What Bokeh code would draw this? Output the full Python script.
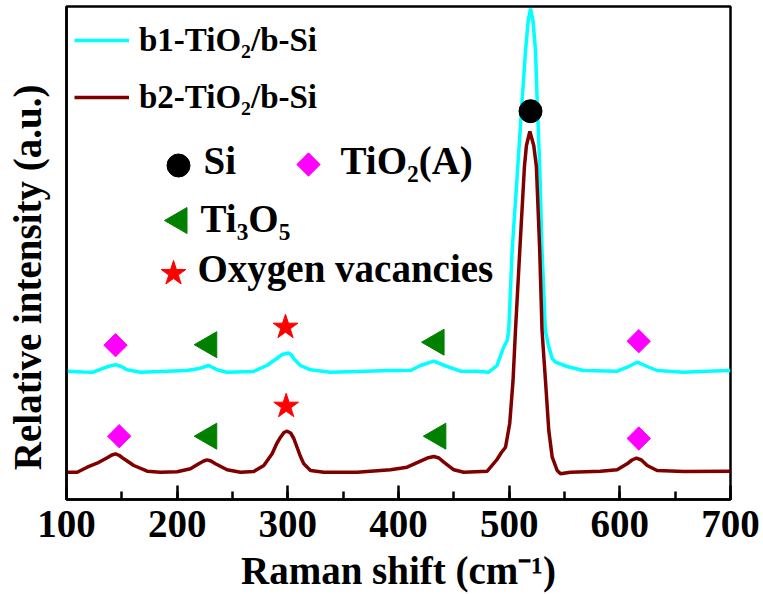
import math

from bokeh.embed import file_html
from bokeh.models import FixedTicker, Label, Legend, LegendItem, Range1d, SingleIntervalTicker
from bokeh.plotting import figure
from bokeh.resources import INLINE

# Raman spectra (offset for display), intensity in a.u.
shift_b1 = [100, 115, 124, 133.5, 139, 144.3, 149.5, 154.8, 166.9, 185, 209, 221, 228.6, 236,
            245, 269, 281, 290, 295, 300.5, 303, 305.4, 311.4, 320.5, 338.5, 362.6, 392.8,
            410.8, 419.9, 431.9, 444, 456, 471, 481.5, 489, 495, 498.2, 499.6, 502.7, 507.8,
            511.7, 514.8, 517.2, 519.3, 521.5, 523.8, 525.3, 527.6, 529.7, 532.7, 535.5,
            538.9, 541.9, 552.4, 567, 597.6, 606.6, 615.7, 624.7, 633.7, 657.8, 678.9, 700]
intensity_b1 = [1283, 1275, 1273, 1313, 1335, 1347, 1330, 1297, 1273, 1280, 1290, 1313, 1340, 1297,
                1273, 1280, 1340, 1410, 1450, 1465, 1447, 1407, 1340, 1297, 1273, 1280, 1290,
                1290, 1340, 1383, 1330, 1283, 1283, 1273, 1340, 1523, 1590, 1690, 2490, 3330,
                3990, 4490, 4790, 4910, 4790, 4490, 3990, 3330, 2490, 1690, 1540,
                1410, 1373, 1330, 1290, 1283, 1323, 1373, 1330, 1290, 1273, 1283, 1290]

shift_b2 = [100, 109.7, 118.7, 127.7, 136.8, 141, 144.3, 147.8, 151.8, 160.8, 172.9, 184.9,
            200, 212, 219.5, 224, 227.1, 230.5, 234.6, 245.1, 257.2, 269.2, 278.3, 285.8,
            290, 293.4, 296.5, 299.4, 302.5, 305.4, 308.4, 311.4, 314.4, 320.5, 332.5, 362.6,
            392.8, 407.8, 419.9, 427, 431.9, 436.5, 440.9, 450, 459, 480.2, 489, 493, 496.7,
            500.5, 503.5, 505.7, 509.6, 513.8, 515.6, 518.7, 522.2, 524.6, 527.6, 529.7,
            532.8, 535.8, 538.9, 543.4, 546.4, 555.4, 582.5, 597.6, 606.6, 611, 615, 619.5,
            624.7, 633.7, 657.8, 700]
intensity_b2 = [273, 273, 323, 363, 417, 445, 457, 440, 407, 340, 283, 273,
                277, 307, 357, 385, 397, 385, 357, 297, 273, 280, 340, 457,
                560, 623, 670, 683, 665, 610, 520, 430, 357, 290, 273, 273,
                297, 323, 383, 418, 430, 415, 373, 297, 273, 283, 400, 470, 523,
                760, 1190, 1690, 2490, 3330, 3540, 3680, 3540, 3330, 2490, 1690,
                1190, 690, 423, 290, 257, 273, 283, 297, 357, 395, 413, 395,
                340, 290, 280, 283]

# Peak assignments: (Raman shift, marker height)
si_shift = [519.3]
si_level = [3883]
tio2_shift = [144.3, 617.1, 147.6, 617.1]
tio2_level = [1543, 1583, 633, 610]
ti3o5_shift = [229, 434.4, 229, 436]
ti3o5_level = [1548, 1573, 633, 633]
ovac_shift = [297.9, 298.5]
ovac_level = [1723, 933]

FONT = "Liberation Serif"
CYAN = "#00FFFF"
WINE = "#800000"
MAGENTA = "#FF00FF"
GREEN = "#008000"
RED = "#FF0000"

p = figure(width=763, height=594, output_backend="svg", toolbar_location=None,
           x_range=Range1d(100, 700), y_range=Range1d(0, 4930),
           min_border_left=66, min_border_right=33, min_border_top=6, min_border_bottom=95)
p.grid.visible = False
p.background_fill_color = "white"
p.border_fill_color = "white"
p.outline_line_color = "black"
p.outline_line_width = 2.5

# x axis: inward ticks, bold serif labels
xa = p.xaxis[0]
xa.ticker = SingleIntervalTicker(interval=100, num_minor_ticks=2)
xa.major_tick_in = 14
xa.major_tick_out = 0
xa.minor_tick_in = 8
xa.minor_tick_out = 0
xa.axis_line_width = 2.5
xa.major_tick_line_width = 2.5
xa.minor_tick_line_width = 2.5
xa.major_label_standoff = 11
xa.major_label_text_font = FONT
xa.major_label_text_font_style = "bold"
xa.major_label_text_font_size = "39px"
xa.major_label_text_color = "black"
xa.axis_label = "Raman shift (cm\u207b\u00b9)"
xa.axis_label_standoff = 9
xa.axis_label_text_font = FONT
xa.axis_label_text_font_style = "bold"
xa.axis_label_text_font_size = "39px"
xa.axis_label_text_color = "black"

# y axis: no ticks, title only
ya = p.yaxis[0]
ya.ticker = FixedTicker(ticks=[])
ya.axis_line_width = 2.5
ya.major_tick_line_color = None
ya.minor_tick_line_color = None
ya.axis_label = "Relative intensity (a.u.)" + "\u00a0" * 5
ya.axis_label_standoff = 18
ya.axis_label_text_font = FONT
ya.axis_label_text_font_style = "bold"
ya.axis_label_text_font_size = "39px"
ya.axis_label_text_color = "black"

# spectra
r_b1 = p.line(shift_b1, intensity_b1, line_color=CYAN, line_width=3.5)
r_b2 = p.line(shift_b2, intensity_b2, line_color=WINE, line_width=3.5)

# peak markers
p.scatter(si_shift, si_level, marker="circle", size=23, fill_color="black", line_color="black")
p.scatter(tio2_shift, tio2_level, marker="square", size=16.5, angle=math.pi / 4,
          fill_color=MAGENTA, line_color=MAGENTA)
p.scatter(ti3o5_shift, ti3o5_level, marker="triangle", size=26, angle=math.pi / 2,
          fill_color=GREEN, line_color=GREEN)
p.scatter(ovac_shift, ovac_level, marker="star", size=26, fill_color=RED, line_color=RED)

# sample legend
p.add_layout(Legend(items=[LegendItem(label="b1-TiO\u2082/b-Si", renderers=[r_b1]),
                           LegendItem(label="b2-TiO\u2082/b-Si", renderers=[r_b2])],
                    location=(8, 382), padding=0, margin=0, spacing=17,
                    glyph_width=55, glyph_height=40, label_height=40, label_standoff=10,
                    border_line_color=None, background_fill_alpha=0,
                    label_text_font=FONT, label_text_font_style="bold",
                    label_text_font_size="33px", label_text_color="black"))

# assignment key, laid out in frame pixels
p.extra_x_ranges = {"key_x": Range1d(0, 664)}
p.extra_y_ranges = {"key_y": Range1d(0, 493)}


def key_entry(mx, my, tx, ty, text, **marker):
    p.scatter([mx], [my], x_range_name="key_x", y_range_name="key_y", **marker)
    p.add_layout(Label(x=tx, y=ty, x_units="screen", y_units="screen", text=text,
                       text_align="left", text_baseline="alphabetic", text_font=FONT,
                       text_font_style="bold", text_font_size="39px", text_color="black"))


key_entry(112, 334, 137, 339, "Si", marker="circle", size=23,
          fill_color="black", line_color="black")
key_entry(242, 335, 274, 339, "TiO\u2082(A)", marker="square", size=16.5, angle=math.pi / 4,
          fill_color=MAGENTA, line_color=MAGENTA)
key_entry(113, 279, 134, 281, "Ti\u2083O\u2085", marker="triangle", size=26, angle=math.pi / 2,
          fill_color=GREEN, line_color=GREEN)
key_entry(107, 226, 131, 231, "Oxygen vacancies", marker="star", size=26,
          fill_color=RED, line_color=RED)

open("out.html", "w").write(file_html(p, INLINE))
